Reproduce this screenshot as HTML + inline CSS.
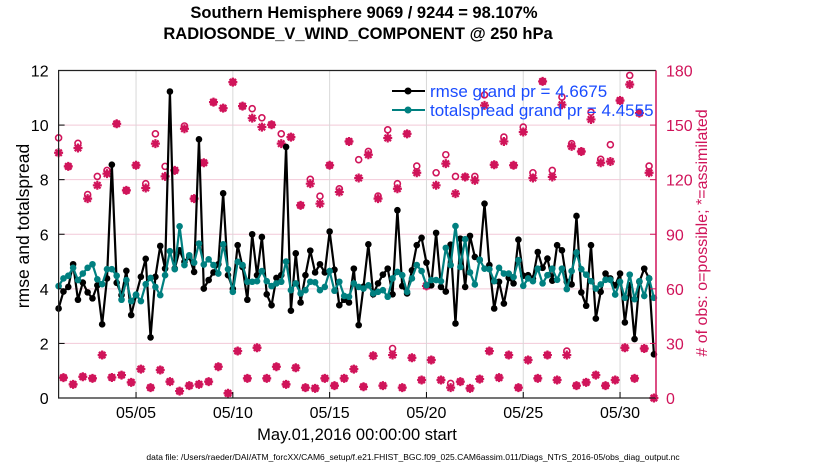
<!DOCTYPE html>
<html><head><meta charset="utf-8"><style>
body{margin:0;background:#fff;}
svg{display:block;font-family:"Liberation Sans",sans-serif;}
</style></head><body>
<svg id="chart" width="830" height="470" viewBox="0 0 830 470" xmlns="http://www.w3.org/2000/svg">
<rect width="830" height="470" fill="#fff"/>
<g id="grid"></g>
<g id="obs"></g>
<g id="lines"></g>
<g id="axes"></g>
<text x="364" y="18" text-anchor="middle" font-size="16.5" font-weight="bold">Southern Hemisphere 9069 / 9244 = 98.107%</text>
<text x="358" y="39" text-anchor="middle" font-size="16.5" font-weight="bold">RADIOSONDE_V_WIND_COMPONENT @ 250 hPa</text>
<text transform="translate(29,226) rotate(-90)" text-anchor="middle" font-size="17.5">rmse and totalspread</text>
<text transform="translate(707,233) rotate(-90)" text-anchor="middle" font-size="16" fill="#d0145a"># of obs: o=possible; *=assimilated</text>
<text x="357" y="440" text-anchor="middle" font-size="16.5">May.01,2016 00:00:00 start</text>
<text x="413" y="460" text-anchor="middle" font-size="8.5">data file: /Users/raeder/DAI/ATM_forcXX/CAM6_setup/f.e21.FHIST_BGC.f09_025.CAM6assim.011/Diags_NTrS_2016-05/obs_diag_output.nc</text>
<g id="legend">
<line x1="392" y1="91" x2="425" y2="91" stroke="#000" stroke-width="2"/><circle cx="408" cy="91" r="3.5" fill="#000"/>
<text x="430" y="97" font-size="17" fill="#1a4cff">rmse grand pr = 4.6675</text>
<line x1="392" y1="110" x2="425" y2="110" stroke="#008080" stroke-width="2"/><circle cx="408" cy="110" r="3.5" fill="#008080"/>
<text x="430" y="116" font-size="17" fill="#1a4cff">totalspread grand pr = 4.4555</text>
</g>
</svg>
<script>
const rmse=[3.28,3.9,4.07,4.9,3.6,4.23,3.87,3.65,4.13,2.7,4.38,8.55,4.22,3.77,4.66,3.04,3.77,4.44,5.1,2.22,4.44,5.57,4.74,11.23,4.74,5.41,4.99,5.17,4.62,9.48,4.01,4.32,
4.6,4.9,7.5,4.5,4.0,5.6,4.8,3.6,6.0,4.5,5.9,3.8,3.4,4.4,4.5,9.2,3.2,5.3,3.5,4.5,5.4,4.6,4.9,4.6,6.1,4.7,3.4,3.6,3.5,4.74,2.67,
4.08,5.63,3.8,4.2,4.52,4.74,3.8,6.88,4.1,3.83,4.68,5.6,5.87,4.96,4.13,6.05,4.07,3.9,5.62,2.73,5.84,4.07,5.94,5.17,5.05,7.12,4.87,3.28,4.26,3.46,4.4,
4.2,5.8,4.48,4.5,4.38,5.35,4.77,5.11,4.3,5.6,5.41,4.26,4.16,6.67,3.87,3.38,5.6,2.91,3.89,4.56,4.38,4.13,4.56,2.77,4.13,2.16,4.26,4.74,4.38,1.6];
const spread=[4.1,4.38,4.48,4.77,4.32,4.56,4.77,4.9,4.35,4.17,4.72,4.72,4.48,3.6,4.32,3.55,3.79,3.55,4.17,4.4,4.07,3.77,4.5,5.38,4.72,6.29,4.87,5.23,4.96,5.66,4.89,5.08,
4.87,4.56,5.63,4.72,3.89,4.99,4.87,4.26,4.26,4.28,4.65,4.28,4.1,4.2,4.26,5.0,3.95,4.2,3.83,3.95,4.26,4.24,3.95,4.07,4.65,3.93,4.26,3.74,
3.71,4.2,4.07,4.01,4.13,3.83,3.89,3.95,3.71,4.38,4.62,4.5,3.89,4.38,4.87,4.65,4.13,4.32,4.32,4.28,5.5,4.87,6.3,4.8,5.82,4.6,4.16,5.07,4.74,4.72,4.28,4.77,4.56,4.56,
4.43,5.05,4.11,4.38,4.28,4.74,4.2,4.5,4.74,4.33,4.74,3.99,4.65,5.33,4.72,4.52,4.28,4.01,4.16,4.33,4.33,3.79,4.26,3.67,4.52,3.62,4.28,3.74,4.38,3.67];
const highAssim=[134.8,127.3,137.4,109.6,116.9,123.3,150.7,114.1,127.9,115.4,139.8,121.8,125.1,148,109.6,129.3,
162.6,159.3,173.6,160.4,153.8,148.9,150.2,139.8,143.4,105.9,117.8,106.8,127.9,113.2,141,120.9,
133.7,109.6,142.9,115,145.2,123.8,61.6,116.9,128.8,112.3,121.5,119.6,160.8,128.2,141,127.9,
146.2,120.9,174,121.5,161.2,138.3,135.5,153.1,129.3,130,163.5,172.3,156.6,123.8];
const highPoss=[143,127.3,140,111.8,121.8,125.1,150.7,114.1,127.9,117.8,145.2,127.3,125.1,149.5,109.6,129.3,
162.6,159.3,173.6,160.4,159,154,150.2,145.2,143.4,105.9,120.2,110.9,127.9,115,141,131,
135.5,111,147.4,117.8,145.2,127.5,61.6,123.8,133.7,121.8,121.5,121.8,166.6,128.2,143.4,127.9,
148.9,123.8,174,125.1,165.4,139.8,135.5,157.1,131.2,139.2,163.5,177.3,156.6,127.5];
const lowAssim=[11.2,7.5,11.7,10.8,23.6,11.3,12.6,8.6,15.9,5.7,15.4,9,3.8,6.8,7.5,9,
17.2,2.6,25.8,10.8,27.6,10.8,17.2,7.5,16.6,5.7,5.3,10.8,6.8,10.8,15.9,
6.2,23.2,6.8,23.6,5.7,22.1,9.9,20.9,9.9,5.7,9,5.3,10.4,25.8,11.2,23.6,
5.7,20.9,10.8,23.6,9.9,23.6,6.8,8.6,12.6,6.8,9.9,27.6,10.8,27.2,0];
const lowPoss=[11.2,7.5,11.7,10.8,23.6,11.3,12.6,8.6,15.9,5.7,15.4,9,3.8,6.8,7.5,9,
17.2,2.6,25.8,10.8,27.6,10.8,17.2,7.5,16.6,5.7,5.3,10.8,6.8,10.8,15.9,
6.2,23.2,6.8,27.2,5.7,22.1,9.9,20.9,9.9,8,9,5.3,10.4,25.8,11.2,23.6,
5.7,20.9,10.8,23.6,9.9,25.8,6.8,8.6,12.6,6.8,9.9,27.6,10.8,27.2,0];
const leftTicks=[0,2,4,6,8,10,12];
const rightTicks=[0,30,60,90,120,150,180];
const dateTicks=[4,9,14,19,24,29];
const dateLabels=["05/05","05/10","05/15","05/20","05/25","05/30"];

const NS="http://www.w3.org/2000/svg";
const L=58.6,R=656,T=70.5,B=398;
const xDay=d=>L+d*19.36;
const yL=v=>B-v*(B-T)/12;
const yR=n=>B-n*(B-T)/180;
const RED="#d0145a";
function mk(tag,attrs,parent){const e=document.createElementNS(NS,tag);for(const k in attrs)e.setAttribute(k,attrs[k]);parent.appendChild(e);return e;}
const grid=document.getElementById('grid'),axes=document.getElementById('axes'),obs=document.getElementById('obs'),lines=document.getElementById('lines');

leftTicks.forEach(v=>{
  const g=mk('line',{x1:L,x2:R,y1:yL(v),y2:yL(v),stroke:'#f2c9d8','stroke-width':1},grid);
  
  
  const t=mk('line',{x1:L,x2:L+6,y1:yL(v),y2:yL(v),stroke:'#000'},axes);
  
  
  const tx=mk('text',{x:L-10,y:yL(v)+6,'text-anchor':'end','font-size':16},axes);
  tx.textContent=v;
  
  
});
rightTicks.forEach(v=>{
  const t=mk('line',{x1:R-6,x2:R,y1:yR(v),y2:yR(v),stroke:RED},axes);
  
  
  const tx=mk('text',{x:R+10,y:yR(v)+6,'font-size':16,fill:RED},axes);
  tx.textContent=v;
  
  
});
dateTicks.forEach((d,i)=>{
  const g=mk('line',{x1:xDay(d),x2:xDay(d),y1:T,y2:B,stroke:'#d8d8d8'},grid);
  
  
  const t=mk('line',{x1:xDay(d),x2:xDay(d),y1:B-6,y2:B,stroke:'#000'},axes);
  
  
  const tx=mk('text',{x:xDay(d),y:B+20,'text-anchor':'middle','font-size':16},axes);
  tx.textContent=dateLabels[i];
  
  
});
const f1=mk('path',{d:`M${R},${T} L${L},${T} L${L},${B} L${R},${B}`,fill:'none',stroke:'#222','stroke-width':1.2},axes);


const f2=mk('line',{x1:R,x2:R,y1:T,y2:B,stroke:RED,'stroke-width':1.5},axes);



function drawObs(arrA,arrP,offset,name){
  arrA.forEach((v,k)=>{
    const x=xDay(offset+k*0.5);
    const c=mk('circle',{cx:x,cy:yR(arrP[k]),r:3,fill:'none',stroke:RED,'stroke-width':1.6},obs);
    
    
    const y=yR(v),s=4.5;
    const p=mk('path',{d:`M${x-s},${y}H${x+s}M${x},${y-s}V${y+s}M${x-3.2},${y-3.2}L${x+3.2},${y+3.2}M${x-3.2},${y+3.2}L${x+3.2},${y-3.2}`,stroke:RED,'stroke-width':2.2},obs);
    
    
  });
}
drawObs(highAssim,highPoss,0,'obs-high');
drawObs(lowAssim,lowPoss,0.25,'obs-low');

function drawLine(arr,color,name){
  const pts=arr.map((v,i)=>[xDay(i*0.25),yL(v)]);
  const pl=mk('polyline',{points:pts.map(p=>p.join(',')).join(' '),fill:'none',stroke:color,'stroke-width':2.2},lines);
  
  
  pts.forEach(p=>{
    const c=mk('circle',{cx:p[0],cy:p[1],r:3.3,fill:color},lines);
    
    
  });
}
drawLine(rmse,'#000','rmse');
drawLine(spread,'#008080','totalspread');
</script>
</body></html>
